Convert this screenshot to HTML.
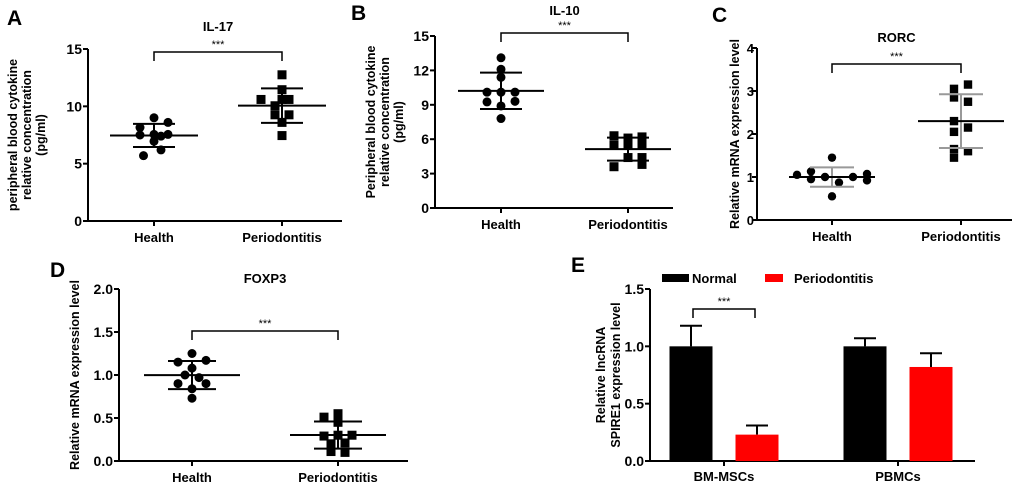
<!DOCTYPE html>
<html><head><meta charset="utf-8">
<style>
body{margin:0;background:#fff;}
svg{display:block;font-family:"Liberation Sans",Arial,sans-serif;font-weight:bold;}
</style></head>
<body>
<svg id="fig" width="1020" height="487" viewBox="0 0 1020 487"></svg>
<script>
// Panel A: IL-17
const aCategories = ["Health","Periodontitis"];
const aHealth = [9.0,8.6,8.15,7.5,7.55,7.4,7.55,6.95,6.2,5.7];
const aHealthJit = [0,2,-2,-2,0,1,2,0,1,-1.5];
const aPerio = [12.75,11.45,10.6,10.05,10.6,10.6,9.26,9.26,8.6,7.45];
const aPerioJit = [0,0,-3,-1,0,1,-1,1,0,0];
const aTicks = [0,5,10,15];
// Panel B: IL-10
const bHealth = [13.1,12.1,11.4,10.1,10.1,10.1,9.25,9.3,8.9,7.8];
const bHealthJit = [0,0,0,-2,0,2,-2,2,0,0];
const bPerio = [6.3,6.1,6.2,5.5,5.5,5.5,4.4,4.4,3.8,3.6];
const bPerioJit = [-2,0,2,-2,0,2,0,2,2,-2];
const bTicks = [0,3,6,9,12,15];
// Panel C: RORC
const cHealth = [1.05,1.13,0.95,1.0,1.45,0.87,1.0,1.07,0.92,0.55];
const cHealthJit = [-5,-3,-3,-1,0,1,3,5,5,0];
const cPerio = [3.05,3.15,2.85,2.75,2.3,2.15,2.05,1.65,1.6,1.45];
const cPerioJit = [-1,1,-1,1,-1,1,-1,-1,1,-1];
const cTicks = [0,1,2,3,4];
// Panel D: FOXP3
const dHealth = [1.25,1.15,1.17,1.08,1.0,0.97,0.9,0.9,0.84,0.73];
const dHealthJit = [0,-2,2,0,-1,1,-2,2,0,0];
const dPerio = [0.51,0.55,0.45,0.29,0.3,0.3,0.2,0.21,0.11,0.1];
const dPerioJit = [-2,0,0,-2,0,2,-1,1,-1,1];
const dTicks = [0,0.5,1.0,1.5,2.0];
// Panel E: bar chart
const eGroups = ["BM-MSCs","PBMCs"];
const eNormal = [1.0,1.0];
const eNormalErr = [0.18,0.07];
const ePerio = [0.23,0.82];
const ePerioErr = [0.08,0.12];
const eTicks = [0,0.5,1.0,1.5];

const NS="http://www.w3.org/2000/svg";
const svg=document.getElementById('fig');
function mk(tag,attrs,parent){const e=document.createElementNS(NS,tag);for(const k in attrs)e.setAttribute(k,attrs[k]);(parent||svg).appendChild(e);return e;}
function txt(s,attrs,parent){const e=mk('text',attrs,parent);e.textContent=s;return e;}
function mean(a){return a.reduce((s,v)=>s+v,0)/a.length;}
function sd(a){const m=mean(a);return Math.sqrt(a.reduce((s,v)=>s+(v-m)*(v-m),0)/(a.length-1));}

function scatterPanel(o){
  const g=mk('g',{});
  
  
  const y=v=>o.y0-(v-o.tmin)/(o.tmax-o.tmin)*(o.y0-o.y1);
  const xs=[o.xh,o.xp];
  const ax=mk('path',{d:`M${o.ax} ${o.y1} V${o.y0} H${o.axEnd}`,stroke:'#000','stroke-width':2,fill:'none'},g);
  
  
  const tOff=o.tOff||6;
  o.ticks.forEach(t=>{
    mk('line',{x1:o.ax-5,x2:o.ax,y1:y(t),y2:y(t),stroke:'#000','stroke-width':2},g);
    const tl=txt(o.fmt(t),{x:o.ax-tOff,y:y(t)+5,'text-anchor':'end','font-size':o.tfs||14},g);
    
    
  });
  aCategories.forEach((c,i)=>{
    mk('line',{x1:xs[i],x2:xs[i],y1:o.y0,y2:o.y0+5,stroke:'#000','stroke-width':2},g);
    const cl=txt(c,{x:xs[i],y:o.y0+21,'text-anchor':'middle','font-size':13},g);
    
    
  });
  const t=txt(o.title,{x:(o.xh+o.xp)/2,y:o.titleY,'text-anchor':'middle','font-size':13},g);
  
  
  const L=txt(o.letter,{x:o.lx,y:o.ly,'font-size':21},g);
  
  
  const yl=mk('text',{transform:`translate(${o.ylx},${o.yly}) rotate(-90)`,'text-anchor':'middle','font-size':12.5},g);
  
  
  o.ylabel.forEach((s,i)=>{const ts=mk('tspan',{x:0,dy:i?14:0},yl);ts.textContent=s;});
  const br=mk('path',{d:`M${o.xh} ${o.bry+9} V${o.bry} H${o.xp} V${o.bry+9}`,stroke:'#000','stroke-width':1.5,fill:'none'},g);
  
  
  const st=txt('***',{x:(o.xh+o.xp)/2,y:o.bry-4,'text-anchor':'middle','font-size':11,'font-weight':'normal'},g);
  
  
  [[o.h,o.hj,'circle'],[o.p,o.pj,'square']].forEach(([arr,jit,shape],gi)=>{
    arr.forEach((v,i)=>{
      const cx=xs[gi]+jit[i]*o.jit, cy=y(v);
      let e;
      if(shape==='circle') e=mk('circle',{cx:cx,cy:cy,r:o.r,fill:'#000'},g);
      else e=mk('rect',{x:cx-o.r,y:cy-o.r,width:2*o.r,height:2*o.r,fill:'#000'},g);
      
      
    });
    const m=mean(arr),s=sd(arr),xc=xs[gi];
    const col=o.sdColor||'#000';
    const eb=mk('path',{d:`M${xc-o.sw} ${y(m+s)} H${xc+o.sw} M${xc} ${y(m+s)} V${y(m-s)} M${xc-o.sw} ${y(m-s)} H${xc+o.sw}`,stroke:col,'stroke-width':2,fill:'none'},g);
    
    
    const ml=mk('line',{x1:xc-o.mw,x2:xc+o.mw,y1:y(m),y2:y(m),stroke:'#000','stroke-width':2},g);
    
    
  });
}

scatterPanel({name:'panel-a-il17',letter:'A',lx:7,ly:25,title:'IL-17',titleY:31,ax:88,axEnd:342,y0:221,y1:49,tmin:0,tmax:15,ticks:aTicks,fmt:t=>String(t),
  xh:154,xp:282,h:aHealth,hj:aHealthJit,p:aPerio,pj:aPerioJit,jit:7,r:4.5,sw:21,mw:44,bry:52,
  ylabel:['peripheral blood cytokine','relative concentration','(pg/ml)'],ylx:17,yly:135});
scatterPanel({name:'panel-b-il10',letter:'B',lx:351,ly:20,title:'IL-10',titleY:15,ax:435,axEnd:673,y0:208,y1:36,tmin:0,tmax:15,ticks:bTicks,fmt:t=>String(t),
  xh:501,xp:628,h:bHealth,hj:bHealthJit,p:bPerio,pj:bPerioJit,jit:7,r:4.5,sw:21,mw:43,bry:33,
  ylabel:['Peripheral blood cytokine','relative concentration','(pg/ml)'],ylx:375,yly:122});
scatterPanel({name:'panel-c-rorc',letter:'C',lx:712,ly:22,title:'RORC',titleY:42,ax:757,axEnd:1012,y0:220,y1:48,tmin:0,tmax:4,ticks:cTicks,fmt:t=>String(t),tOff:3,tfs:13,
  xh:832,xp:961,h:cHealth,hj:cHealthJit,p:cPerio,pj:cPerioJit,jit:7,r:4.2,sw:22,mw:43,bry:64,sdColor:'#999',
  ylabel:['Relative mRNA expression level'],ylx:739,yly:134});
scatterPanel({name:'panel-d-foxp3',letter:'D',lx:50,ly:277,title:'FOXP3',titleY:283,ax:119,axEnd:408,y0:461,y1:289,tmin:0,tmax:2,ticks:dTicks,fmt:t=>t.toFixed(1),
  xh:192,xp:338,h:dHealth,hj:dHealthJit,p:dPerio,pj:dPerioJit,jit:7,r:4.5,sw:24,mw:48,bry:331,
  ylabel:['Relative mRNA expression level'],ylx:79,yly:375});

// Panel E
(function(){
  const g=mk('g',{});
  
  
  const ax=650,axEnd=975,y0=461,y1=289,tmax=1.5;
  const y=v=>y0-v/tmax*(y0-y1);
  const gx=[724,898];
  const bw=43, off=33;
  const a=mk('path',{d:`M${ax} ${y1} V${y0} H${axEnd}`,stroke:'#000','stroke-width':2,fill:'none'},g);
  
  
  eTicks.forEach(t=>{
    mk('line',{x1:ax-5,x2:ax,y1:y(t),y2:y(t),stroke:'#000','stroke-width':2},g);
    const tl=txt(t.toFixed(1),{x:ax-6,y:y(t)+5,'text-anchor':'end','font-size':14},g);
    
    
  });
  eGroups.forEach((c,i)=>{
    mk('line',{x1:gx[i],x2:gx[i],y1:y0,y2:y0+5,stroke:'#000','stroke-width':2},g);
    const cl=txt(c,{x:gx[i],y:y0+20,'text-anchor':'middle','font-size':13},g);
    
    
    [[eNormal,eNormalErr,'#000',-off,'normal-bar'],[ePerio,ePerioErr,'#ff0000',off,'periodontitis-bar']].forEach(([v,er,col,o,nm])=>{
      const cx=gx[i]+o;
      const eb=mk('path',{d:`M${cx} ${y(v[i])} V${y(v[i]+er[i])} M${cx-11} ${y(v[i]+er[i])} H${cx+11}`,stroke:'#000','stroke-width':2,fill:'none'},g);
      
      
      const r=mk('rect',{x:cx-bw/2,y:y(v[i]),width:bw,height:y0-y(v[i]),fill:col},g);
      
      
    });
  });
  const L=txt('E',{x:571,y:272,'font-size':21},g);
  
  
  const yl=mk('text',{transform:'translate(605,375) rotate(-90)','text-anchor':'middle','font-size':12.5},g);
  
  
  ['Relative lncRNA','SPIRE1 expression level'].forEach((s,i)=>{const ts=mk('tspan',{x:0,dy:i?15:0},yl);ts.textContent=s;});
  const l1=mk('rect',{x:662,y:274,width:27,height:8,fill:'#000'},g);
  
  
  const lt1=txt('Normal',{x:692,y:283,'font-size':13},g);
  
  
  const l2=mk('rect',{x:765,y:274,width:18,height:8,fill:'#ff0000'},g);
  
  
  const lt2=txt('Periodontitis',{x:794,y:283,'font-size':13},g);
  
  
  const br=mk('path',{d:`M${gx[0]-off+2} 318 V309 H${gx[0]+off-2} V318`,stroke:'#000','stroke-width':1.5,fill:'none'},g);
  
  
  const st=txt('***',{x:gx[0],y:305,'text-anchor':'middle','font-size':11,'font-weight':'normal'},g);
  
  
})();
</script>
</body></html>
